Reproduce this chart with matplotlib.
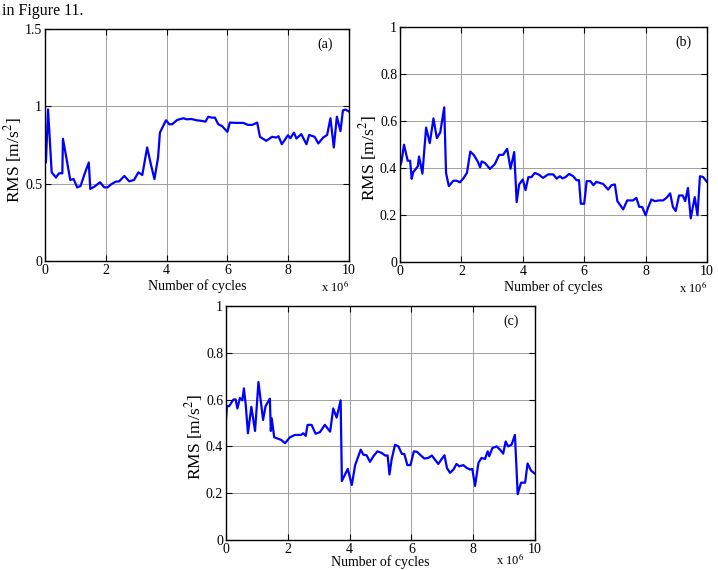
import matplotlib
matplotlib.use("Agg")
import matplotlib.pyplot as plt

plt.rcParams["font.family"] = ["Liberation Serif", "DejaVu Serif"]
plt.rcParams["mathtext.fontset"] = "stix"

# (a) cycles (x 10^6) and RMS
cyc_a = [0, 0.03, 0.1, 0.22, 0.36, 0.46, 0.57, 0.59, 0.71, 0.83, 0.94, 1.06, 1.17, 1.30,
         1.44, 1.49, 1.62, 1.81, 1.95, 2.06, 2.19, 2.33, 2.44, 2.61, 2.77, 2.93, 3.07, 3.20,
         3.36, 3.48, 3.60, 3.72, 3.78, 3.98, 4.09, 4.18, 4.35, 4.55, 4.66, 4.82, 4.98, 5.15,
         5.28, 5.37, 5.48, 5.59, 5.70, 5.82, 6.0, 6.08, 6.30, 6.52, 6.68, 6.82, 6.98, 7.07,
         7.28, 7.47, 7.61, 7.68, 7.79, 7.99, 8.07, 8.19, 8.27, 8.43, 8.60, 8.69, 8.87, 8.99,
         9.15, 9.28, 9.39, 9.50, 9.60, 9.72, 9.80, 9.89, 10.0]
rms_a = [0.637, 0.637, 0.98, 0.573, 0.54, 0.567, 0.567, 0.79, 0.66, 0.524, 0.53, 0.476,
         0.485, 0.562, 0.637, 0.466, 0.48, 0.509, 0.476, 0.476, 0.498, 0.513, 0.515, 0.55,
         0.515, 0.524, 0.573, 0.556, 0.734, 0.627, 0.53, 0.67, 0.83, 0.91, 0.884, 0.884,
         0.912, 0.923, 0.916, 0.918, 0.91, 0.906, 0.901, 0.933, 0.927, 0.927, 0.884, 0.873,
         0.835, 0.895, 0.893, 0.893, 0.88, 0.88, 0.895, 0.803, 0.777, 0.803, 0.798, 0.807,
         0.755, 0.813, 0.794, 0.83, 0.792, 0.82, 0.755, 0.815, 0.803, 0.76, 0.798, 0.815,
         0.923, 0.734, 0.933, 0.84, 0.974, 0.979, 0.966]

# (b)
cyc_b = [0, 0.05, 0.13, 0.25, 0.33, 0.38, 0.43, 0.58, 0.62, 0.73, 0.85, 0.97, 1.09, 1.20,
         1.31, 1.44, 1.50, 1.59, 1.74, 1.84, 1.95, 2.06, 2.18, 2.29, 2.40, 2.53, 2.61, 2.66,
         2.77, 2.93, 3.09, 3.23, 3.36, 3.49, 3.60, 3.72, 3.80, 3.88, 4.0, 4.09, 4.18, 4.28,
         4.39, 4.52, 4.66, 4.83, 4.99, 5.10, 5.21, 5.29, 5.39, 5.51, 5.64, 5.75, 5.83, 5.89,
         6.0, 6.08, 6.20, 6.30, 6.40, 6.62, 6.78, 6.89, 7.0, 7.08, 7.27, 7.40, 7.59, 7.70,
         7.79, 7.89, 8.0, 8.08, 8.19, 8.30, 8.43, 8.57, 8.68, 8.80, 8.89, 8.98, 9.09, 9.21,
         9.29, 9.38, 9.47, 9.60, 9.69, 9.77, 9.87, 10.0]
rms_b = [0.407, 0.428, 0.499, 0.431, 0.431, 0.354, 0.382, 0.407, 0.449, 0.376, 0.572,
         0.506, 0.611, 0.527, 0.551, 0.658, 0.379, 0.323, 0.346, 0.346, 0.339, 0.355, 0.379,
         0.47, 0.456, 0.428, 0.403, 0.428, 0.421, 0.396, 0.417, 0.456, 0.456, 0.482, 0.397,
         0.468, 0.255, 0.33, 0.351, 0.306, 0.361, 0.361, 0.379, 0.372, 0.358, 0.373, 0.373,
         0.355, 0.365, 0.356, 0.361, 0.375, 0.365, 0.348, 0.348, 0.248, 0.248, 0.344, 0.344,
         0.327, 0.341, 0.332, 0.308, 0.327, 0.33, 0.259, 0.224, 0.262, 0.262, 0.273, 0.235,
         0.234, 0.199, 0.231, 0.266, 0.259, 0.262, 0.262, 0.273, 0.292, 0.234, 0.217, 0.283,
         0.283, 0.259, 0.315, 0.186, 0.276, 0.199, 0.365, 0.362, 0.341]

# (c)
cyc_c = [0, 0.03, 0.1, 0.24, 0.31, 0.37, 0.45, 0.53, 0.58, 0.64, 0.71, 0.82, 0.94, 1.05,
         1.20, 1.28, 1.42, 1.45, 1.48, 1.56, 1.78, 1.91, 2.07, 2.23, 2.43, 2.50, 2.58, 2.64,
         2.77, 2.90, 3.04, 3.20, 3.37, 3.47, 3.58, 3.71, 3.75, 3.94, 4.07, 4.18, 4.36, 4.44,
         4.55, 4.66, 4.77, 4.90, 5.04, 5.15, 5.23, 5.29, 5.36, 5.47, 5.58, 5.69, 5.77, 5.87,
         5.97, 6.08, 6.19, 6.30, 6.42, 6.55, 6.66, 6.76, 6.87, 6.98, 7.07, 7.15, 7.25, 7.36,
         7.46, 7.55, 7.68, 7.79, 7.90, 7.97, 8.06, 8.17, 8.27, 8.38, 8.47, 8.52, 8.62, 8.76,
         8.87, 8.97, 9.05, 9.13, 9.24, 9.35, 9.44, 9.55, 9.68, 9.76, 9.87, 9.98]
rms_c = [0.515, 0.572, 0.572, 0.6, 0.601, 0.562, 0.607, 0.597, 0.648, 0.576, 0.456, 0.569,
         0.466, 0.675, 0.513, 0.572, 0.604, 0.466, 0.52, 0.439, 0.428, 0.414, 0.439, 0.449,
         0.449, 0.456, 0.445, 0.492, 0.492, 0.454, 0.461, 0.492, 0.463, 0.562, 0.523, 0.597,
         0.252, 0.304, 0.235, 0.32, 0.386, 0.365, 0.362, 0.334, 0.358, 0.379, 0.372, 0.361,
         0.361, 0.28, 0.344, 0.407, 0.4, 0.368, 0.368, 0.32, 0.32, 0.379, 0.376, 0.362,
         0.348, 0.351, 0.361, 0.344, 0.325, 0.346, 0.362, 0.308, 0.287, 0.301, 0.325, 0.315,
         0.32, 0.308, 0.301, 0.304, 0.231, 0.33, 0.351, 0.346, 0.379, 0.358, 0.393, 0.4,
         0.386, 0.369, 0.421, 0.4, 0.407, 0.449, 0.196, 0.245, 0.245, 0.327, 0.297, 0.285]

fig = plt.figure(figsize=(7.18, 5.70), dpi=100)
fig.text(0.003, 0.994, "in Figure 11.", fontsize=11.5, va="top", ha="left")

# axes box in pixels, data, y max, y ticks, tag, "x 10^6" offset from right edge
panels = [
    ([45, 29, 304, 232], cyc_a, rms_a, 1.5, [0, 0.5, 1, 1.5], "(a)", 14),
    ([400, 27, 307, 235], cyc_b, rms_b, 1.0, [0, 0.2, 0.4, 0.6, 0.8, 1], "(b)", 14),
    ([226, 306, 309, 234], cyc_c, rms_c, 1.0, [0, 0.2, 0.4, 0.6, 0.8, 1], "(c)", 25),
]

W, H = 718, 570
for (px, py, pw, ph), xs, ys, ymax, yt, tag, xo in panels:
    ax = fig.add_axes([px / W, 1 - (py + ph) / H, pw / W, ph / H])
    ax.plot(xs, ys, color="#0000ff", linewidth=1.6)
    ax.set_xlim(0, 10)
    ax.set_ylim(0, ymax)
    ax.set_xticks([0, 2, 4, 6, 8, 10])
    ax.set_yticks(yt)
    ax.set_yticklabels([("%g" % v) for v in yt])
    ax.grid(True, color="#a0a0a0", linewidth=0.7)
    ax.tick_params(direction="in", length=4, top=True, right=True, labelsize=10, pad=2)
    for s in ax.spines.values():
        s.set_linewidth(1.0)
    ax.text(0.922, 0.935, tag, transform=ax.transAxes, ha="center", va="center", fontsize=10)
    # labels placed in pixels
    cx = px + pw / 2
    xl_y = min(py + ph + 25, 562)
    fig.text(cx / W, 1 - xl_y / H, "Number of cycles", ha="center", va="center", fontsize=10)
    fig.text((px + pw - xo) / W, 1 - min(py + ph + 34, 568) / H, r"x 10$^{6}$",
             ha="center", va="bottom", fontsize=9)
    fig.text((px - 32) / W, 1 - (py + 131) / H, r"RMS [m/s$^{2}$]", rotation=90,
             ha="center", va="center", fontsize=12.5)

fig.savefig("out.png", dpi=100)
